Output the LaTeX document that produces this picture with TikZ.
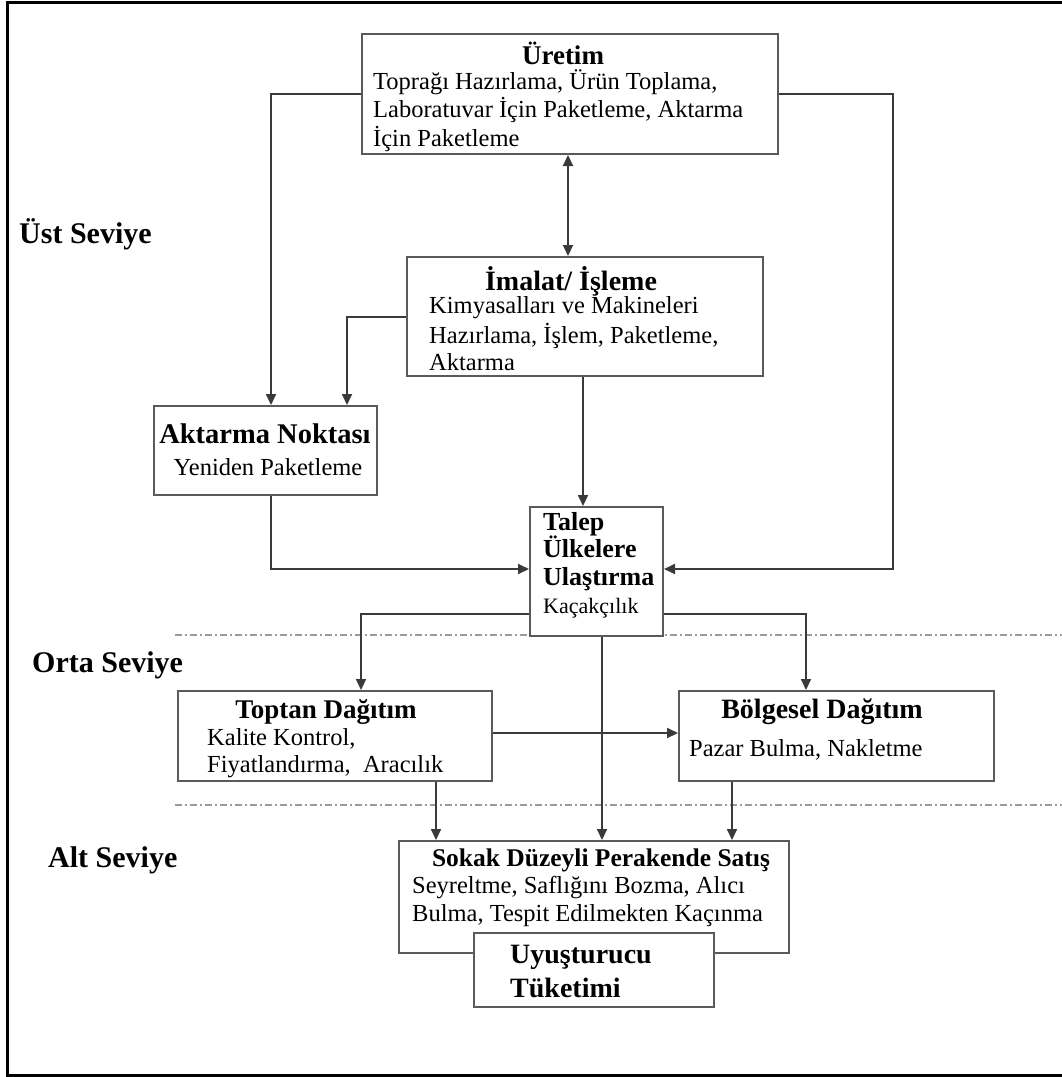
\documentclass[tikz,border=0pt]{standalone}
\usepackage{fontspec}
\setmainfont{Liberation Serif}
\usetikzlibrary{arrows.meta}
\definecolor{boxgray}{HTML}{5A5A5A}
\definecolor{arrgray}{HTML}{3A3A3A}
\definecolor{sepgray}{HTML}{9A9A9A}
\begin{document}
\begin{tikzpicture}[x=1pt,y=-1pt,
  box/.style={draw=boxgray, line width=2pt, fill=white, inner sep=0pt, anchor=north west},
  bodyline/.style={inner sep=0pt, anchor=base west, font=\fontsize{24.5}{29}\selectfont},
  ttl/.style={inner sep=0pt, anchor=base, font=\fontsize{27}{32}\selectfont\bfseries},
  lvl/.style={inner sep=0pt, anchor=base west, font=\fontsize{30}{34}\selectfont\bfseries},
  arr/.style={draw=arrgray, line width=2pt, -{Triangle[length=11pt,width=10pt]}},
  sepline/.style={draw=sepgray, line width=2pt, dash pattern=on 7pt off 3pt on 2pt off 3pt}]
\useasboundingbox (0,0) rectangle (1062,1077);
% outer frame (open on the right)
\draw[line width=3pt] (1062,2) -- (7,2) -- (7,1075) -- (1062,1075);

% level separators
\draw[sepline] (175,635) -- (1062,635);
\draw[sepline] (175,805) -- (1062,805);

% level labels
\node[lvl] (ust) at (19,243) {Üst Seviye};
\node[lvl] (orta) at (32,672) {Orta Seviye};
\node[lvl] (alt) at (48,867) {Alt Seviye};

% boxes
\node[box, minimum width=416pt, minimum height=120pt] (uretim) at (361,33) {};
\node[box, minimum width=356pt, minimum height=119pt] (imalat) at (406,256) {};
\node[box, minimum width=223pt, minimum height=89pt] (aktarma) at (153,405) {};
\node[box, minimum width=133pt, minimum height=129pt] (talep) at (529,506) {};
\node[box, minimum width=314pt, minimum height=90pt] (toptan) at (177,690) {};
\node[box, minimum width=315pt, minimum height=90pt] (bolgesel) at (678,690) {};
\node[box, minimum width=390pt, minimum height=112pt] (sokak) at (398,840) {};
\node[box, minimum width=240pt, minimum height=74pt] (tuketim) at (473,932) {};

% texts: Uretim
\node[ttl] (uretimT) at (563,64) {Üretim};
\node[bodyline] (uretim1) at (373,89) {Toprağı Hazırlama, Ürün Toplama,};
\node[bodyline] (uretim2) at (373,117) {Laboratuvar İçin Paketleme, Aktarma};
\node[bodyline] (uretim3) at (373,146) {İçin Paketleme};

% Imalat
\node[ttl, font=\fontsize{28}{32}\selectfont\bfseries] (imalatT) at (571,290) {İmalat/ İşleme};
\node[bodyline] (imalat1) at (429,313) {Kimyasalları ve Makineleri};
\node[bodyline] (imalat2) at (429,343) {Hazırlama, İşlem, Paketleme,};
\node[bodyline] (imalat3) at (429,370) {Aktarma};

% Aktarma Noktasi
\node[ttl, font=\fontsize{28.5}{32}\selectfont\bfseries] (aktarmaT) at (265,443) {Aktarma Noktası};
\node[bodyline, anchor=base] (aktarma1) at (268,475) {Yeniden Paketleme};

% Talep
\node[bodyline, font=\fontsize{26}{30}\selectfont\bfseries] (talep1) at (543,530) {Talep};
\node[bodyline, font=\fontsize{26}{30}\selectfont\bfseries] (talep2) at (543,557) {Ülkelere};
\node[bodyline, font=\fontsize{26}{30}\selectfont\bfseries] (talep3) at (543,585) {Ulaştırma};
\node[bodyline, font=\fontsize{22}{26}\selectfont] (talep4) at (543,613) {Kaçakçılık};

% Toptan
\node[ttl] (toptanT) at (326,718) {Toptan Dağıtım};
\node[bodyline] (toptan1) at (207,745) {Kalite Kontrol,};
\node[bodyline] (toptan2) at (207,772) {Fiyatlandırma,\ \ Aracılık};

% Bolgesel
\node[ttl, font=\fontsize{28}{32}\selectfont\bfseries] (bolgeselT) at (822,718) {Bölgesel Dağıtım};
\node[bodyline] (bolgesel1) at (689,756) {Pazar Bulma, Nakletme};

% Sokak
\node[ttl, font=\fontsize{25.5}{30}\selectfont\bfseries] (sokakT) at (601,866) {Sokak Düzeyli Perakende Satış};
\node[bodyline] (sokak1) at (412,893) {Seyreltme, Saflığını Bozma, Alıcı};
\node[bodyline] (sokak2) at (412,921) {Bulma, Tespit Edilmekten Kaçınma};

% Tuketim
\node[bodyline, font=\fontsize{28}{32}\selectfont\bfseries] (tuketim1) at (510,963) {Uyuşturucu};
\node[bodyline, font=\fontsize{28}{32}\selectfont\bfseries] (tuketim2) at (510,997) {Tüketimi};

% helper coordinates (x or y positions of connectors)
\coordinate (xL) at (271,0);
\coordinate (xA) at (347,0);
\coordinate (xR) at (893,0);
\coordinate (xU) at (568,0);
\coordinate (xI) at (583,0);
\coordinate (yC) at (0,569);
\coordinate (yT) at (0,614);
\coordinate (xTo) at (361,0);
\coordinate (xBo) at (806,0);
\coordinate (xM) at (602,0);
\coordinate (yM) at (0,733);
\coordinate (xS1) at (436,0);
\coordinate (xS3) at (732,0);

% connectors
\draw[arr] (uretim.west) -| (aktarma.north -| xL);
\draw[arr] (imalat.west) -| (aktarma.north -| xA);
\draw[arr] (uretim.east) -| (xR |- yC) -- (talep.east |- yC);
\draw[arr, {Triangle[length=11pt,width=10pt]}-{Triangle[length=11pt,width=10pt]}] (uretim.south -| xU) -- (imalat.north -| xU);
\draw[arr] (imalat.south -| xI) -- (talep.north -| xI);
\draw[arr] (aktarma.south -| xL) |- (talep.west |- yC);
\draw[arr] (talep.west |- yT) -| (toptan.north -| xTo);
\draw[arr] (talep.east |- yT) -| (bolgesel.north -| xBo);
\draw[arr] (talep.south -| xM) -- (sokak.north -| xM);
\draw[arr] (toptan.east |- yM) -- (bolgesel.west |- yM);
\draw[arr] (toptan.south -| xS1) -- (sokak.north -| xS1);
\draw[arr] (bolgesel.south -| xS3) -- (sokak.north -| xS3);
\end{tikzpicture}
\end{document}
